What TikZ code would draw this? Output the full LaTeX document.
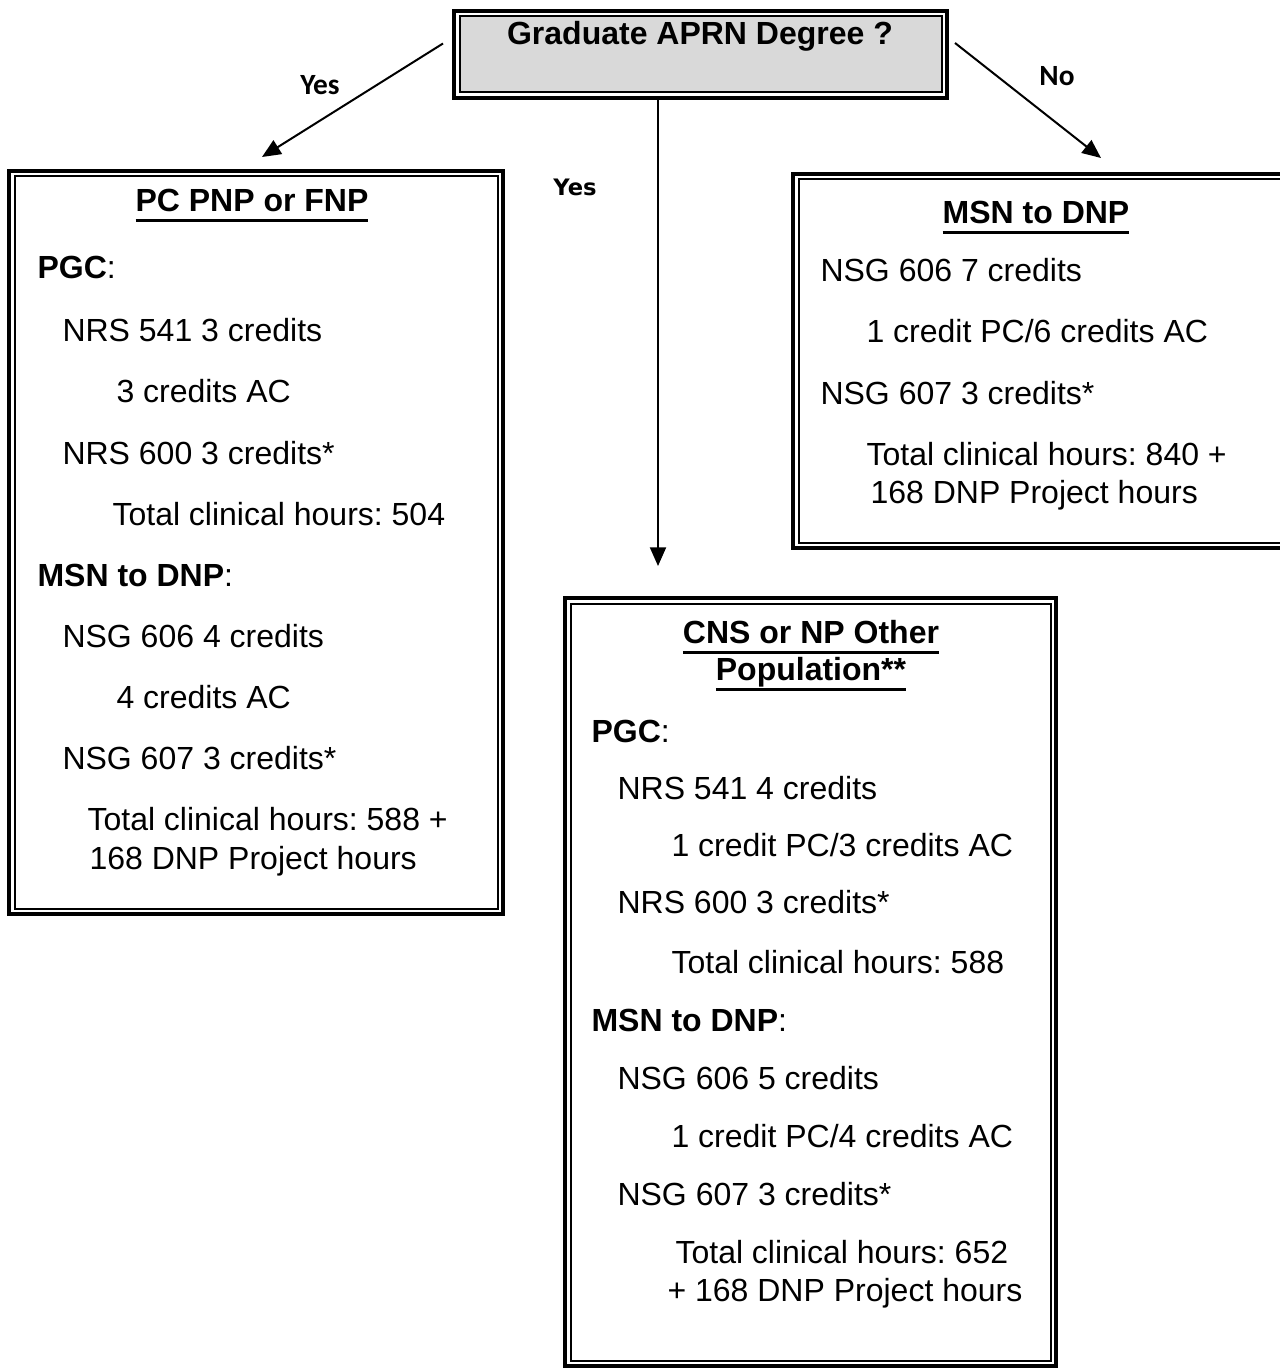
\documentclass[tikz,border=0pt]{standalone}
\usepackage{fontspec}
\setmainfont{Liberation Sans}
\newfontfamily\calibri{Carlito}
\newfontfamily\dejavu{DejaVu Sans}
\usetikzlibrary{arrows.meta, fit}
\frenchspacing

\newcommand{\bodyfont}{\fontsize{12}{14}\selectfont}
% thick underline for the box headings
\newcommand{\headline}[1]{\setbox0\hbox{#1}\rlap{\rule[-3.9pt]{\wd0}{1.1pt}}\box0}

\tikzset{
  outerbox/.style={draw, line width=1.5pt, inner sep=0pt, outer sep=0pt},
  innerbox/.style={draw, line width=0.75pt},
  arr/.style={-{Triangle[length=7pt,width=6pt]}, line width=0.75pt},
  txt/.style={anchor=west, inner sep=0pt, font=\bodyfont, text height=8.6pt, text depth=0pt},
  head/.style={inner sep=0pt, font=\bodyfont\bfseries, text height=8.6pt, text depth=0pt},
  ans/.style={inner sep=0pt, font=\calibri\bfseries\fontsize{11}{13}\selectfont}
}

\begin{document}
\begin{tikzpicture}[x=0.375pt, y=-0.375pt]
  \useasboundingbox (0,0) rectangle (1279,1368);

  % boxes
  \node[outerbox, fit={(454,11) (947,98)}] (top) {};
  \node[outerbox, fit={(9,171) (503,914)}] (pc) {};
  \node[outerbox, fit={(793,174) (1290,548)}] (msn) {};
  \node[outerbox, fit={(565,598) (1056,1366)}] (cns) {};
  \draw[innerbox, fill=black!15] ([shift={(5.5,5.5)}]top.north west) rectangle ([shift={(-5.5,-5.5)}]top.south east);
  \foreach \b in {pc,msn,cns}
    \draw[innerbox] ([shift={(5.5,5.5)}]\b.north west) rectangle ([shift={(-5.5,-5.5)}]\b.south east);

  % question
  \node[head] (q) at (700,33) {Graduate APRN Degree ?};

  % answers
  \draw[arr] ([shift={(-11,-11)}]top.west) -- ([shift={(6,-14)}]pc.north);
  \draw[arr] ([shift={(8,-11.5)}]top.east) -- ([shift={(59.5,-16)}]msn.north);
  \draw[arr] ([shift={(-42.5,0)}]top.south) -- ([shift={(-152.5,-32)}]cns.north);
  \node[ans] (yesl) at (320,85) {Yes};
  \node[ans] (no) at (1057,76) {No};
  \node[inner sep=0pt, font=\dejavu\bfseries\fontsize{8.5}{10}\selectfont] (yesm) at (575,187) {Yes};

  % PC PNP or FNP
  \node[head] (pct) at (252,200) {\headline{PC PNP or FNP}};
  \foreach \x/\y/\t [count=\i] in {37/267/{\textbf{PGC}:}, 62/330/{NRS 541 3 credits},
      116/391/{3 credits AC}, 62/453/{NRS 600 3 credits*}, 112/514/{Total clinical hours: 504},
      37/575/{\textbf{MSN to DNP}:}, 62/636/{NSG 606 4 credits}, 116/697/{4 credits AC},
      62/758/{NSG 607 3 credits*}, 87/819/{Total clinical hours: 588 +}, 89/858/{168 DNP Project hours}}
    \node[txt] (pc\i) at (\x,\y) {\t};

  % MSN to DNP
  \node[head] (msnt) at (1036,212) {\headline{MSN to DNP}};
  \foreach \x/\y/\t [count=\i] in {820/270/{NSG 606 7 credits}, 866/331/{1 credit PC/6 credits AC},
      820/393/{NSG 607 3 credits*}, 866/454/{Total clinical hours: 840 +}, 870/492/{168 DNP Project hours}}
    \node[txt] (msn\i) at (\x,\y) {\t};

  % CNS or NP Other Population
  \node[head] (cnst) at (811,632) {\headline{CNS or NP Other}};
  \node[head] (cnsu) at (811,669) {\headline{Population**}};
  \foreach \x/\y/\t [count=\i] in {591/731/{\textbf{PGC}:}, 617/788/{NRS 541 4 credits},
      671/845/{1 credit PC/3 credits AC}, 617/902/{NRS 600 3 credits*}, 671/962/{Total clinical hours: 588},
      591/1020/{\textbf{MSN to DNP}:}, 617/1078/{NSG 606 5 credits}, 671/1136/{1 credit PC/4 credits AC},
      617/1194/{NSG 607 3 credits*}, 675/1252/{Total clinical hours: 652}, 667/1290/{+ 168 DNP Project hours}}
    \node[txt] (cns\i) at (\x,\y) {\t};
\end{tikzpicture}
\end{document}
